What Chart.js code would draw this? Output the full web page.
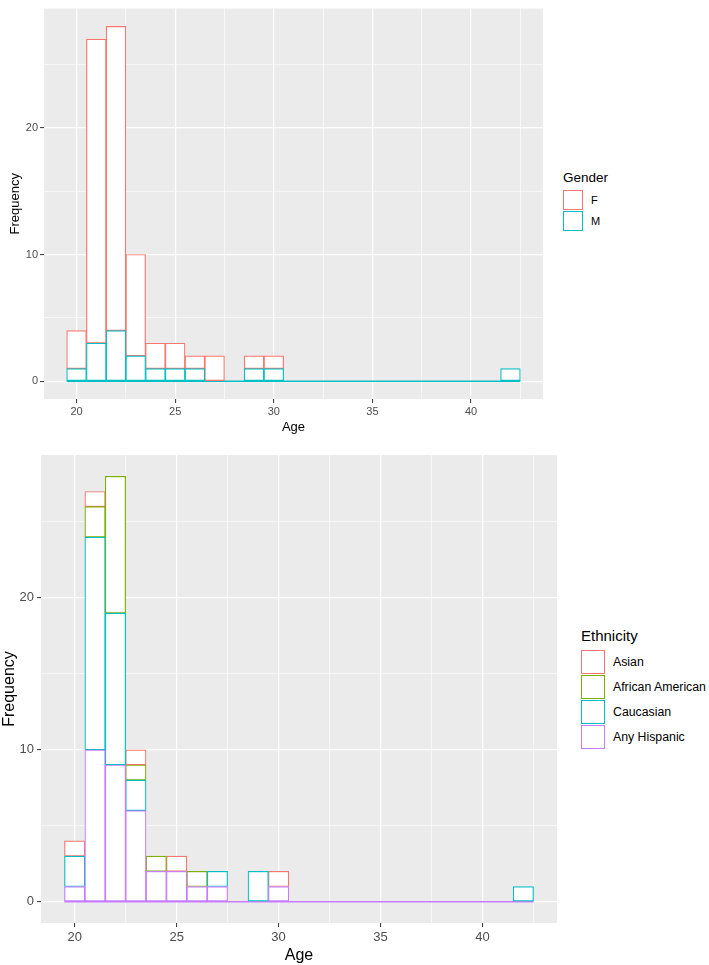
<!DOCTYPE html>
<html>
<head>
<meta charset="utf-8">
<script src="https://cdn.jsdelivr.net/npm/chart.js@4/dist/chart.umd.min.js"></script>
<style>
  html, body { margin: 0; padding: 0; background: #fff; }
  body { width: 709px; height: 965px; position: relative; overflow: hidden; font-family: "Liberation Sans", Arial, sans-serif; }
  canvas { position: absolute; }
  .legend { position: absolute; color: #000; }
  .legend .ttl { white-space: nowrap; }
  .legend .item { display: flex; align-items: center; white-space: nowrap; }
  .legend .key { box-sizing: border-box; background: #fff; border: 1.4px solid; }
</style>
</head>
<body>
<canvas id="gender" width="560" height="440" style="left:0;top:0"></canvas>
<canvas id="ethnicity" width="575" height="525" style="left:0;top:440px"></canvas>
<div class="legend" id="leg-gender" style="left:563px;top:170px"></div>
<div class="legend" id="leg-ethnicity" style="left:581px;top:627px"></div>
<script>
// ── data ──
const ages = [20, 21, 22, 23, 24, 25, 26, 27, 28, 29, 30, 31, 32, 33, 34, 35, 36, 37, 38, 39, 40, 41, 42];
const maleCounts   = [1, 3, 4, 2, 1, 1, 1, 0, 0, 1, 1, 0, 0, 0, 0, 0, 0, 0, 0, 0, 0, 0, 1];
const femaleCounts = [3, 24, 24, 8, 2, 2, 1, 2, 0, 1, 1, 0, 0, 0, 0, 0, 0, 0, 0, 0, 0, 0, 0];
const hispanicCounts  = [1, 10, 9, 6, 2, 2, 1, 1, 0, 0, 1, 0, 0, 0, 0, 0, 0, 0, 0, 0, 0, 0, 0];
const caucasianCounts = [2, 14, 10, 2, 0, 0, 0, 1, 0, 2, 0, 0, 0, 0, 0, 0, 0, 0, 0, 0, 0, 0, 1];
const africanCounts   = [0, 2, 9, 1, 1, 0, 1, 0, 0, 0, 0, 0, 0, 0, 0, 0, 0, 0, 0, 0, 0, 0, 0];
const asianCounts     = [1, 1, 0, 1, 0, 1, 0, 0, 0, 0, 1, 0, 0, 0, 0, 0, 0, 0, 0, 0, 0, 0, 0];

const xTicks = [20, 22.5, 25, 27.5, 30, 32.5, 35, 37.5, 40, 42.5];
const xMajor = [20, 25, 30, 35, 40];
const yTicks = [0, 5, 10, 15, 20, 25];
const yMajor = [0, 10, 20];
const xRange = [18.35, 43.65];
const yRange = [-1.4, 29.4];

const PANEL = '#EBEBEB';
const FONT = '"Liberation Sans", Arial, sans-serif';

// ── panel background ──
const panelBg = {
    id: 'panelBg',
    beforeDraw(chart) {
        const a = chart.chartArea, ctx = chart.ctx;
        ctx.save();
        ctx.fillStyle = PANEL;
        ctx.fillRect(a.left, a.top, a.right - a.left, a.bottom - a.top);
        ctx.restore();
    }
};

function makeHist(id, series, s) {
    // series listed bottom of stack first; the first one also draws the zero baseline
    const datasets = series.map(sr => ({
        label: sr.label,
        data: ages.map((a, i) => ({ x: a, y: sr.values[i] })),
        backgroundColor: '#fff',
        borderColor: sr.color,
        borderWidth: 1.2,
        borderSkipped: false,
        barPercentage: 1,
        categoryPercentage: 1,
        stack: 'hist'
    }));
    datasets.push({
        type: 'line',
        label: 'base',
        data: [{ x: ages[0] - 0.5, y: 0 }, { x: ages[ages.length - 1] + 0.5, y: 0 }],
        borderColor: series[0].color,
        borderWidth: 1.3,
        pointRadius: 0,
        stack: 'base',
        order: 5
    });
    const grid = majors => ({
        color: '#fff',
        offset: false,
        lineWidth: c => (c.tick && majors.includes(c.tick.value)) ? 1.2 : 0.6,
        tickColor: c => (c.tick && majors.includes(c.tick.value)) ? '#333' : 'rgba(0,0,0,0)',
        tickLength: 4,
        tickWidth: 1
    });
    new Chart(document.getElementById(id), {
        type: 'bar',
        data: { datasets },
        plugins: [panelBg],
        options: {
            responsive: false,
            animation: false,
            layout: { padding: s.padding },
            plugins: { legend: { display: false }, tooltip: { enabled: false } },
            scales: {
                x: {
                    type: 'linear', stacked: true, offset: false, min: xRange[0], max: xRange[1],
                    afterBuildTicks: sc => { sc.ticks = xTicks.map(v => ({ value: v })); },
                    afterFit: sc => { sc.height = s.xAxisH; },
                    grid: grid(xMajor),
                    border: { display: false },
                    ticks: {
                        autoSkip: false, maxRotation: 0, padding: s.tickPad,
                        color: '#4D4D4D', font: { family: FONT, size: s.tickSize },
                        callback: v => xMajor.includes(v) ? String(v) : ''
                    },
                    title: { display: true, text: 'Age', color: '#000', font: { family: FONT, size: s.titleSize }, padding: s.xTitlePad }
                },
                y: {
                    stacked: true, min: yRange[0], max: yRange[1],
                    afterBuildTicks: sc => { sc.ticks = yTicks.map(v => ({ value: v })); },
                    afterFit: sc => { sc.width = s.yAxisW; },
                    grid: grid(yMajor),
                    border: { display: false },
                    ticks: {
                        autoSkip: false, padding: s.tickPad,
                        color: '#4D4D4D', font: { family: FONT, size: s.tickSize },
                        callback: v => yMajor.includes(v) ? String(v) : ''
                    },
                    title: { display: true, text: 'Frequency', color: '#000', font: { family: FONT, size: s.titleSize }, padding: s.yTitlePad }
                }
            }
        }
    });
}

function makeLegend(id, title, series, s) {
    // ggplot lists the top of the stack first
    const el = document.getElementById(id);
    let html = `<div class="ttl" style="font-size:${s.titleSize}px;margin-bottom:${s.gap}px">${title}</div>`;
    series.slice().reverse().forEach(sr => {
        html += `<div class="item" style="height:${s.key + 1}px;font-size:${s.labelSize}px">` +
            `<div class="key" style="width:${s.key}px;height:${s.key}px;border-color:${sr.color}"></div>` +
            `<span style="margin-left:${s.labelGap}px">${sr.label}</span></div>`;
    });
    el.innerHTML = html;
}

const genderSeries = [
    { label: 'M', values: maleCounts, color: '#00BFC4' },
    { label: 'F', values: femaleCounts, color: '#F8766D' }
];
const ethnicitySeries = [
    { label: 'Any Hispanic', values: hispanicCounts, color: '#C77CFF' },
    { label: 'Caucasian', values: caucasianCounts, color: '#00BFC4' },
    { label: 'African American', values: africanCounts, color: '#7CAE00' },
    { label: 'Asian', values: asianCounts, color: '#F8766D' }
];

makeHist('gender', genderSeries, {
    padding: { top: 3, right: 17, left: 0, bottom: 0 },
    xAxisH: 41, yAxisW: 44, tickPad: 2, tickSize: 11, titleSize: 13,
    xTitlePad: { top: 0, bottom: 5 }, yTitlePad: { top: 8, bottom: 0 }
});
makeHist('ethnicity', ethnicitySeries, {
    padding: { top: 15, right: 18, left: 0, bottom: 0 },
    xAxisH: 42, yAxisW: 41, tickPad: 3, tickSize: 13, titleSize: 16,
    xTitlePad: { top: 0, bottom: 0 }, yTitlePad: { top: 0, bottom: 0 }
});
makeLegend('leg-gender', 'Gender', genderSeries, { titleSize: 13.5, labelSize: 11, key: 20, labelGap: 8, gap: 4 });
makeLegend('leg-ethnicity', 'Ethnicity', ethnicitySeries, { titleSize: 15, labelSize: 12.3, key: 24, labelGap: 8, gap: 5 });
</script>
</body>
</html>
